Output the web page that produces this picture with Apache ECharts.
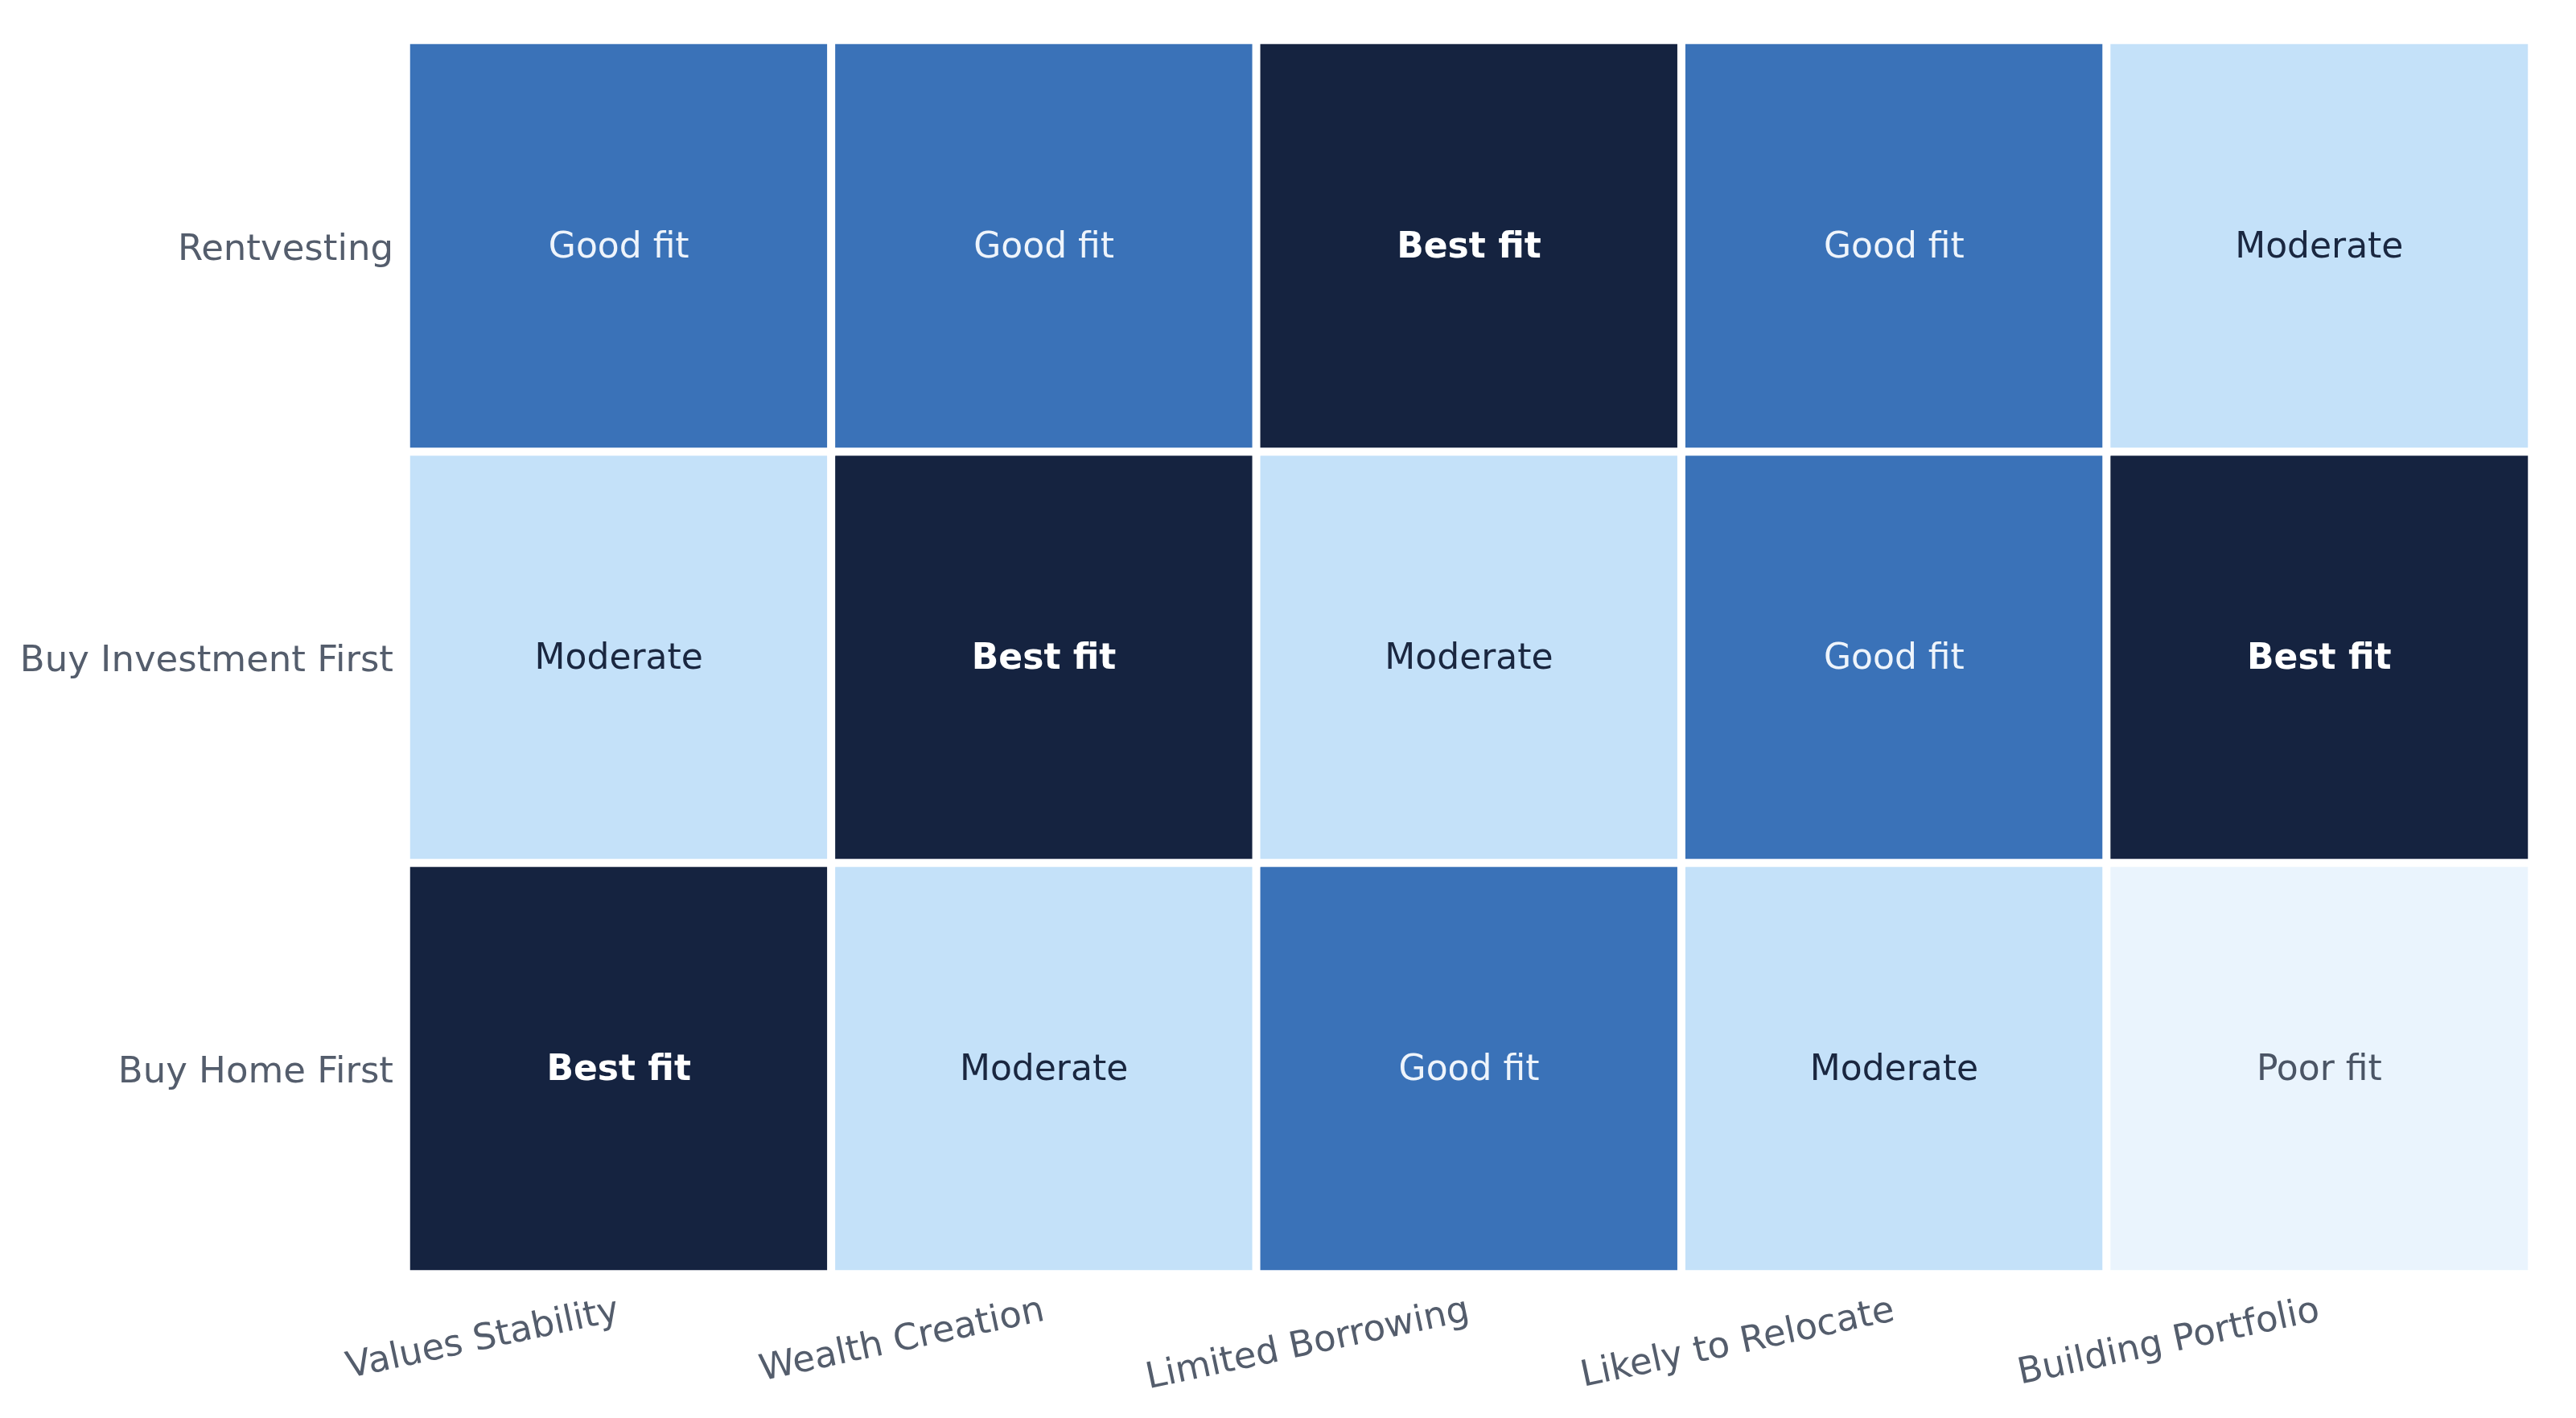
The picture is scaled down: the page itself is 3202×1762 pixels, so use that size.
<!DOCTYPE html>
<html>
<head>
<meta charset="utf-8">
<script src="https://cdn.jsdelivr.net/npm/echarts@6/dist/echarts.min.js"></script>
<style>
  html, body { margin: 0; padding: 0; background: #ffffff; }
  #chart { width: 3202px; height: 1762px; }
</style>
</head>
<body>
<div id="chart"></div>
<script>
// fit matrix: strategy vs. buyer priority
var strategies = ['Buy Home First', 'Buy Investment First', 'Rentvesting'];
var priorities = ['Values Stability', 'Wealth Creation', 'Limited Borrowing', 'Likely to Relocate', 'Building Portfolio'];
var fitLabels = ['Poor fit', 'Moderate', 'Good fit', 'Best fit'];
var fitColors = ['#eaf4fd', '#c4e1f9', '#3a72b8', '#152340'];

// scores per strategy, one per priority (0 = poor ... 3 = best)
var buyHomeFirst = [3, 1, 2, 1, 0];
var buyInvestmentFirst = [1, 3, 1, 2, 3];
var rentvesting = [2, 2, 3, 2, 1];

(function() {
  var rows = [buyHomeFirst, buyInvestmentFirst, rentvesting];
  var data = [];
  rows.forEach(function(row, y) {
    row.forEach(function(v, x) { data.push([x, y, v]); });
  });

  var font = 'DejaVu Sans';
  var chart = echarts.init(document.getElementById('chart'), null, { renderer: 'canvas' });
  chart.setOption({
    animation: false,
    grid: { left: 505, right: 55, top: 50, bottom: 179 },
    xAxis: {
      type: 'category',
      data: priorities,
      axisLine: { show: true, lineStyle: { color: '#e3e5e9', width: 4 } },
      axisTick: { show: false },
      splitArea: { show: false },
      axisLabel: { rotate: 12, margin: 46, color: '#545d6c', fontSize: 45, fontFamily: font }
    },
    yAxis: {
      type: 'category',
      data: strategies,
      axisLine: { show: true, lineStyle: { color: '#e3e5e9', width: 3 } },
      axisTick: { show: false },
      axisLabel: {
        margin: 16,
        color: '#545d6c',
        fontSize: 45,
        fontFamily: font,
        formatter: function(v) { return '{a|' + v + '}'; },
        rich: { a: { padding: [12, 0, 0, 0], color: '#545d6c', fontSize: 45, fontFamily: font } }
      }
    },
    visualMap: {
      show: false,
      type: 'piecewise',
      dimension: 2,
      pieces: fitColors.map(function(c, i) { return { value: i, color: c }; })
    },
    series: [{
      type: 'heatmap',
      data: data,
      itemStyle: { borderColor: '#ffffff', borderWidth: 10 },
      label: {
        show: true,
        offset: [0, 3],
        fontFamily: font,
        fontSize: 44,
        formatter: function(p) { return '{s' + p.value[2] + '|' + fitLabels[p.value[2]] + '}'; },
        rich: {
          s0: { color: '#4b5565', fontSize: 44, fontFamily: font },
          s1: { color: '#1a2740', fontSize: 44, fontFamily: font },
          s2: { color: '#eef4fb', fontSize: 44, fontFamily: font },
          s3: { color: '#ffffff', fontSize: 44, fontFamily: font, fontWeight: 'bold' }
        }
      },
      emphasis: { disabled: true }
    }]
  });
  window.addEventListener('resize', function() { chart.resize(); });
})();
</script>
</body>
</html>
